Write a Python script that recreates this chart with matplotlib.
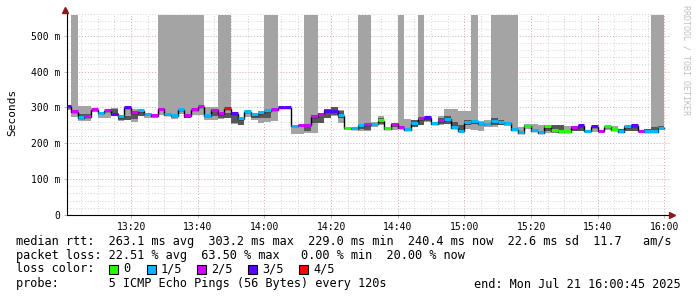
import matplotlib
matplotlib.use("Agg")
import matplotlib.pyplot as plt
import numpy as np

plt.rcParams['font.family'] = 'DejaVu Sans Mono'

# minutes after 13:00, one step every 2 min (first step is partial)
t_start = 0.75
t_end = 180.0

# median rtt per step (ms) and loss count (0..4 of 5)
median = [302, 287, 272, 274, 293, 284, 290, 281, 273, 298,
          286, 291, 281, 276, 295, 279, 277, 293, 277, 293,
          301, 277, 292, 282, 296, 282, 268, 287, 279, 286,
          290, 293, 298, 298, 247, 250, 250, 274, 281, 289,
          289, 276, 242, 241, 248, 251, 253, 263, 240, 253,
          243, 237, 255, 268, 272, 254, 263, 267, 244, 233,
          258, 260, 255, 253, 259, 258, 256, 237, 230, 247,
          235, 230, 246, 234, 231, 231, 243, 248, 233, 245,
          233, 246, 237, 231, 245, 248, 233, 232, 232, 242]
loss = [3, 2, 1, 2, 2, 1, 2, 3, 1, 3,
        2, 1, 1, 2, 2, 1, 1, 1, 2, 2,
        2, 1, 2, 2, 4, 3, 1, 1, 1, 1,
        1, 2, 3, 3, 1, 2, 2, 2, 2, 3,
        3, 1, 0, 1, 1, 2, 1, 0, 0, 2,
        2, 1, 1, 2, 3, 1, 2, 1, 1, 1,
        1, 1, 1, 1, 1, 1, 1, 1, 1, 0,
        1, 1, 0, 0, 0, 0, 2, 3, 1, 3,
        2, 0, 0, 1, 1, 3, 2, 1, 1, 1]

# light smoke (min..max of pings), 558 = off the top
smoke_lo = [292, 274, 261, 261, 288, 270, 270, 275, 262, 265,
            260, 275, 272, 270, 280, 275, 268, 282, 270, 280,
            280, 265, 265, 268, 270, 255, 250, 273, 265, 257,
            260, 263, 296, 296, 226, 226, 229, 229, 258, 272,
            275, 258, 238, 238, 235, 235, 245, 250, 238, 238,
            240, 238, 245, 250, 260, 252, 252, 255, 240, 238,
            240, 238, 235, 245, 245, 250, 248, 235, 230, 240,
            237, 230, 230, 230, 233, 232, 233, 233, 232, 232,
            232, 237, 237, 232, 233, 233, 232, 232, 235, 236]
smoke_hi = [304, 558, 304, 304, 297, 285, 290, 298, 278, 300,
            295, 295, 285, 280, 558, 558, 558, 558, 558, 558,
            558, 302, 300, 558, 558, 283, 270, 290, 285, 290,
            558, 558, 300, 300, 250, 250, 558, 558, 285, 297,
            300, 292, 245, 243, 558, 558, 260, 275, 245, 255,
            558, 268, 265, 558, 275, 260, 275, 297, 297, 290,
            290, 558, 263, 265, 558, 558, 558, 558, 245, 255,
            255, 250, 250, 250, 250, 248, 248, 250, 236, 248,
            236, 248, 248, 240, 248, 250, 238, 240, 558, 558]
# dark (inner) smoke
dark_lo = [0, 0, 277, 270, 0, 0, 0, 277, 265, 266,
           268, 277, 275, 273, 0, 0, 0, 0, 272, 0,
           0, 0, 275, 270, 272, 258, 252, 0, 270, 270,
           270, 0, 0, 0, 0, 0, 235, 258, 258, 272,
           280, 270, 0, 0, 240, 238, 0, 253, 0, 245,
           242, 237, 245, 250, 262, 0, 255, 255, 240, 238,
           250, 255, 0, 0, 250, 252, 0, 0, 0, 0,
           0, 0, 233, 233, 233, 0, 233, 233, 0, 0,
           0, 0, 0, 232, 233, 233, 0, 232, 238, 238]
dark_hi = [0, 0, 283, 282, 0, 0, 0, 296, 275, 275,
           282, 290, 282, 278, 0, 0, 0, 0, 282, 0,
           0, 0, 287, 285, 285, 278, 268, 0, 280, 283,
           290, 0, 0, 0, 0, 0, 250, 280, 285, 297,
           300, 290, 0, 0, 250, 253, 0, 270, 0, 252,
           248, 243, 265, 272, 272, 0, 272, 275, 260, 250,
           265, 265, 0, 0, 270, 265, 0, 0, 0, 0,
           0, 0, 250, 250, 250, 0, 248, 250, 0, 0,
           0, 0, 0, 240, 248, 250, 0, 240, 245, 247]

loss_colors = ['#26ff00', '#00b8ff', '#d200ff', '#5a00ff', '#ff0000']
loss_labels = ['0', '1/5', '2/5', '3/5', '4/5']

n = len(median)
left = np.array([t_start] + [2.0 * k for k in range(1, n)])
right = np.array([2.0 * k + 2 for k in range(n)])
width = right - left
median = np.array(median, dtype=float)

fig = plt.figure(figsize=(6.97, 2.97), dpi=100)
ax = fig.add_axes([67 / 697, 82 / 297, 605 / 697, 205 / 297])
ax.set_xlim(t_start, t_start + 605 / 3.333)
ax.set_ylim(0, 572)

# grid
ymax_grid = 560
for m in np.arange(5, 181, 5):
    major = m % 20 == 0
    ax.plot([m, m], [0, ymax_grid], color='#e6a0a0' if major else '#d4d4d4',
            lw=0.7, ls=(0, (1, 2)), zorder=0)
for v in np.arange(20, ymax_grid + 1, 20):
    major = v % 100 == 0
    ax.plot([t_start, 181.5], [v, v], color='#e6a0a0' if major else '#d4d4d4',
            lw=0.7, ls=(0, (1, 2)), zorder=0)

# smoke
lo = np.array(smoke_lo, dtype=float)
hi = np.array(smoke_hi, dtype=float)
ax.bar(left, hi - lo, width=width, bottom=lo, align='edge',
       color='#a4a4a4', linewidth=0, zorder=1)
dlo = np.array(dark_lo, dtype=float)
dhi = np.array(dark_hi, dtype=float)
has = dhi > 0
ax.bar(left[has], (dhi - dlo)[has], width=width[has], bottom=dlo[has],
       align='edge', color='#565656', linewidth=0, zorder=2)

# median line
xs = np.append(left, right[-1])
ys = np.append(median, median[-1])
ax.step(xs, ys, where='post', color='black', lw=1.0, zorder=3)
ax.hlines(median + 2, left, right, colors=[loss_colors[c] for c in loss],
          lw=2.2, zorder=4)

# axes
for s in ['top', 'right']:
    ax.spines[s].set_visible(False)
ax.spines['left'].set_color('black')
ax.spines['bottom'].set_color('black')
ax.plot([0.0], [572], marker='^', color='#8b1a1a', ms=4, clip_on=False, zorder=6)
ax.plot([t_start + 605 / 3.333], [0], marker='>', color='#8b1a1a', ms=4,
        clip_on=False, zorder=6)

yt = [0, 100, 200, 300, 400, 500]
ax.set_yticks(yt)
ax.set_yticklabels(['0'] + ['%d m' % v for v in yt[1:]], fontsize=7)
xt = [20, 40, 60, 80, 100, 120, 140, 160, 180]
ax.set_xticks(xt)
ax.set_xticklabels(['%d:%02d' % (13 + m // 60, m % 60) for m in xt], fontsize=7)
ax.tick_params(length=2, width=0.6, color='#b0b0b0', pad=3)
ax.set_ylabel('Seconds', fontsize=8, labelpad=10)

fig.text(686 / 697, 1 - 5 / 297, 'RRDTOOL / TOBI OETIKER', rotation=270,
         fontsize=6, color='#c0c0c0', ha='center', va='top')

# legend text
fs = 8.6
fig.text(16 / 697, 1 - 241 / 297,
         'median rtt:  263.1 ms avg  303.2 ms max  229.0 ms min  240.4 ms now  22.6 ms sd  11.7   am/s',
         fontsize=fs, va='center')
fig.text(16 / 697, 1 - 255 / 297,
         'packet loss: 22.51 % avg  63.50 % max   0.00 % min  20.00 % now',
         fontsize=fs, va='center')
fig.text(16 / 697, 1 - 269 / 297, 'loss color:', fontsize=fs, va='center')
sq_x = [109, 147, 197, 248, 299]
for x0, c, lab in zip(sq_x, loss_colors, loss_labels):
    fig.patches.append(plt.Rectangle((x0 / 697, 1 - 274 / 297), 9 / 697, 9 / 297,
                                     transform=fig.transFigure, facecolor=c,
                                     edgecolor='black', lw=0.8))
    fig.text((x0 + 14) / 697, 1 - 269 / 297, lab, fontsize=fs, va='center')
fig.text(16 / 697, 1 - 284 / 297,
         'probe:       5 ICMP Echo Pings (56 Bytes) every 120s',
         fontsize=fs, va='center')
fig.text(681 / 697, 1 - 284 / 297, 'end: Mon Jul 21 16:00:45 2025',
         fontsize=fs, va='center', ha='right')

fig.savefig('out.png', dpi=100)
